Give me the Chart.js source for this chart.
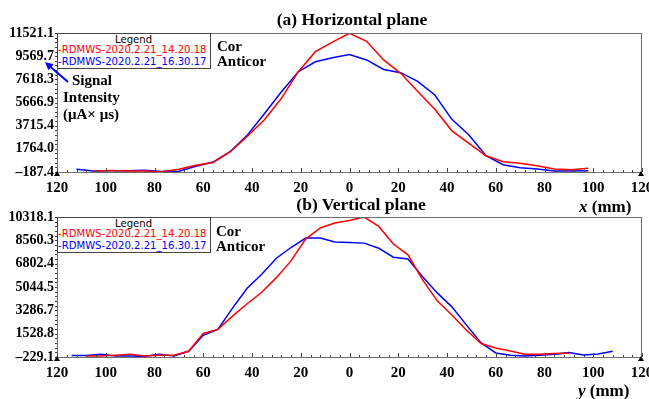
<!DOCTYPE html>
<html>
<head>
<meta charset="utf-8">
<script src="https://cdn.jsdelivr.net/npm/chart.js@4/dist/chart.umd.min.js"></script>
<style>
  body { margin: 0; width: 649px; height: 399px; background: #fff; position: relative; overflow: hidden; }
  canvas { position: absolute; left: 0; }
  .t { position: absolute; font-family: "Liberation Serif", serif; font-weight: bold; white-space: nowrap; color: #000; line-height: 1; }
  .legend { position: absolute; left: 57px; width: 154px; height: 36px; border: 1px solid #444; background: #fff;
            font-family: "DejaVu Sans", sans-serif; font-size: 10.1px; line-height: 12px; box-sizing: border-box; }
  .legend span { position: absolute; left: 0; white-space: nowrap; }
  .legend .hd { left: 57px; color: #000; top: 0; }
  .legend .red { color: #ff0000; top: 10px; }
  .legend .blue { color: #0000ff; top: 22px; }
</style>
</head>
<body>
<canvas id="chartH" width="649" height="199" style="top:0"></canvas>
<canvas id="chartV" width="649" height="209" style="top:190px"></canvas>

<div class="t" style="left:0;width:704px;text-align:center;top:11px;font-size:17.5px">(a) Horizontal plane</div>
<div class="t" style="left:0;width:722px;text-align:center;top:196px;font-size:17.5px">(b) Vertical plane</div>

<div class="legend" style="top:33px">
  <span class="hd">Legend</span>
  <span class="red">-RDMWS-2020.2.21_14.20.18</span>
  <span class="blue">-RDMWS-2020.2.21_16.30.17</span>
</div>
<div class="legend" style="top:217px">
  <span class="hd">Legend</span>
  <span class="red">-RDMWS-2020.2.21_14.20.18</span>
  <span class="blue">-RDMWS-2020.2.21_16.30.17</span>
</div>

<div class="t" style="left:217px;top:39px;font-size:15px">Cor</div>
<div class="t" style="left:217px;top:54px;font-size:15px">Anticor</div>
<div class="t" style="left:216px;top:224px;font-size:15px">Cor</div>
<div class="t" style="left:216px;top:239px;font-size:15px">Anticor</div>

<div class="t" style="left:72px;top:73px;font-size:15px">Signal</div>
<div class="t" style="left:63px;top:90px;font-size:15px">Intensity</div>
<div class="t" style="left:63px;top:107px;font-size:15px">(μA× μs)</div>

<div class="t" style="left:579px;top:198px;font-size:17px"><i>x</i> (mm)</div>
<div class="t" style="left:578px;top:382px;font-size:17px"><i>y</i> (mm)</div>

<svg width="649" height="399" style="position:absolute;left:0;top:0;pointer-events:none">
  <line x1="68" y1="82" x2="50" y2="66.5" stroke="#0000ff" stroke-width="2"/>
  <polygon points="45,62 53.6,64.2 48.4,70.3" fill="#0000ff"/>
</svg>

<script>
// horizontal scan (x, mm)
const xH = [-112, -105, -98, -91, -84, -77, -70, -63, -56, -49, -42, -35, -28, -21, -14, -7,
  0, 7, 14, 21, 28, 35, 42, 49, 56, 63, 70, 77, 84, 91, 98];
const redH = [null, -120, -60, -110, -100, -160, 40, 380, 620, 1500, 2800, 4200, 6000, 8260, 9950, 10750,
  11500, 10820, 9250, 8125, 6600, 5100, 3280, 2230, 1180, 680, 545, 343, 65, 10, 125];
const blueH = [40, -110, -90, -90, -30, -150, -120, 300, 650, 1520, 2900, 4700, 6550, 8260, 9100, 9440,
  9700, 9250, 8450, 8180, 7450, 6300, 4250, 2930, 1180, 430, 175, 65, -100, -110, -78];
const yTicksH = [-187.4, 1764.0, 3715.4, 5666.9, 7618.3, 9569.7, 11521.1];
const yLabelsH = ["\u2013187.4", "1764.0", "3715.4", "5666.9", "7618.3", "9569.7", "11521.1"];

// vertical scan (y, mm)
const xV = [-114, -108, -102, -96, -90, -84, -78, -72, -66, -60, -54, -48, -42, -36, -30, -24, -18, -12, -6,
  0, 6, 12, 18, 24, 30, 36, 42, 48, 54, 60, 66, 72, 78, 84, 90, 96, 102, 108];
const redV = [null, -153, -153, -100, -25, -153, -100, -100, 200, 1540, 1850, 2850, 3780, 4650, 5750, 7010, 8650, 9490, 9860,
  10060, 10318, 9610, 8280, 7470, 5580, 4000, 2930, 1790, 790, 450, 225, -25, -25, 28, 50, null, null, null];
const blueV = [-123, -123, -25, -153, -153, -176, -25, -153, 200, 1410, 1850, 3450, 4950, 6000, 7215, 8020, 8730, 8730, 8430,
  8400, 8350, 7970, 7290, 7160, 5820, 4600, 3550, 2170, 830, 75, -100, -153, -100, -25, 100, -78, 0, 200];
const yTicksV = [-229.1, 1528.8, 3286.7, 5044.5, 6802.4, 8560.3, 10318.1];
const yLabelsV = ["\u2013229.1", "1528.8", "3286.7", "5044.5", "6802.4", "8560.3", "10318.1"];

const xTicks = [-120, -100, -80, -60, -40, -20, 0, 20, 40, 60, 80, 100, 120];

// box, minor ticks and the little axis arrows
const frame = {
  id: "frame",
  afterDraw(chart) {
    const { ctx, chartArea: a, scales } = chart;
    ctx.save();
    ctx.lineWidth = 1;
    ctx.strokeStyle = "#6e6e6e";
    ctx.strokeRect(Math.round(a.left) + 0.5, Math.round(a.top) + 0.5,
      Math.round(a.right - a.left) - 1, Math.round(a.bottom - a.top));
    ctx.strokeStyle = "#444";
    ctx.beginPath();
    for (let v = -120; v <= 120; v += 4) {
      const px = Math.round(scales.x.getPixelForValue(v)) + 0.5;
      const len = v % 20 === 0 ? 4 : 2;
      ctx.moveTo(px, a.bottom);
      ctx.lineTo(px, a.bottom - len);
    }
    const t = scales.y.ticks;
    const step = (t[1].value - t[0].value) / 5;
    for (let v = t[0].value; v <= t[t.length - 1].value + 1; v += step) {
      const py = Math.round(scales.y.getPixelForValue(v)) + 0.5;
      ctx.moveTo(a.left, py);
      ctx.lineTo(a.left - 2, py);
    }
    ctx.stroke();
    ctx.fillStyle = "#000";
    [a.left, a.right - 1].forEach((px) => {
      ctx.beginPath();
      ctx.moveTo(px, a.bottom - 1);
      ctx.lineTo(px - 3, a.bottom + 4);
      ctx.lineTo(px + 3, a.bottom + 4);
      ctx.closePath();
      ctx.fill();
    });
    ctx.restore();
  },
};

function renderPanel(element, xs, red, blue, yTicks, yLabels, pad) {
  const ctx = element.getContext("2d");
  const tickFont = { family: "Liberation Serif", weight: "bold" };

  new Chart(ctx, {
    type: "line",
    data: {
      labels: xs,
      datasets: [
        { label: "RDMWS-2020.2.21_14.20.18", data: xs.map((x, i) => ({ x: x, y: red[i] })),
          borderColor: "#ff0000", borderWidth: 1.5, pointRadius: 0, fill: false, tension: 0 },
        { label: "RDMWS-2020.2.21_16.30.17", data: xs.map((x, i) => ({ x: x, y: blue[i] })),
          borderColor: "#0000ff", borderWidth: 1.5, pointRadius: 0, fill: false, tension: 0 },
      ],
    },
    options: {
      responsive: false,
      animation: false,
      layout: { padding: { top: pad.top, right: 7, bottom: pad.bottom, left: 0 } },
      plugins: { legend: { display: false }, tooltip: { enabled: false } },
      scales: {
        x: {
          type: "linear",
          min: -120,
          max: 120,
          afterBuildTicks: (scale) => { scale.ticks = xTicks.map((v) => ({ value: v })); },
          afterFit: (scale) => { scale.height = 27; scale.paddingLeft = 0; scale.paddingRight = 0; },
          grid: { display: false, drawTicks: false },
          border: { display: false },
          ticks: {
            color: "#000",
            padding: 7,
            maxRotation: 0,
            font: Object.assign({ size: 15 }, tickFont),
            callback: (v) => Math.abs(v),
          },
        },
        y: {
          type: "linear",
          min: yTicks[0],
          max: yTicks[yTicks.length - 1],
          afterBuildTicks: (scale) => { scale.ticks = yTicks.map((v) => ({ value: v })); },
          afterFit: (scale) => { scale.width = 57; },
          grid: { display: false, drawTicks: false },
          border: { display: false },
          ticks: {
            color: "#000",
            padding: 3,
            font: Object.assign({ size: 14 }, tickFont),
            callback: (v, i) => yLabels[i],
          },
        },
      },
    },
    plugins: [frame],
  });
}

renderPanel(document.getElementById("chartH"), xH, redH, blueH, yTicksH, yLabelsH, { top: 33, bottom: 0 });
renderPanel(document.getElementById("chartV"), xV, redV, blueV, yTicksV, yLabelsV, { top: 27, bottom: 15 });
</script>
</body>
</html>
